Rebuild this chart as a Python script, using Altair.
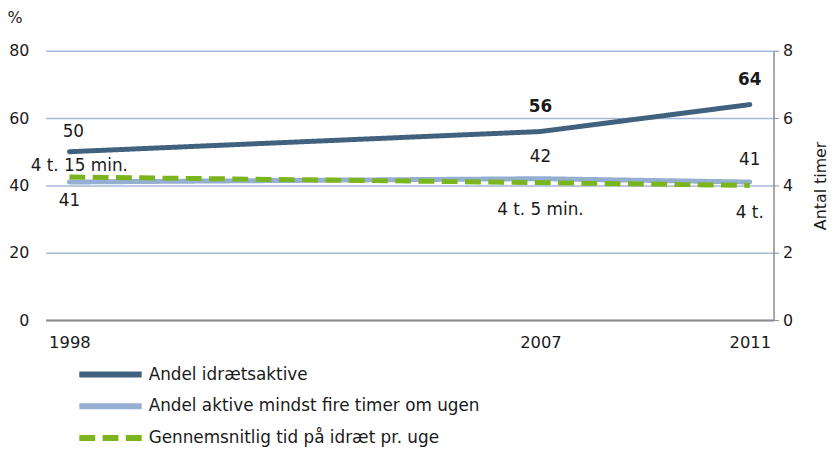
import altair as alt
import pandas as pd

years = [1998, 2007, 2011]
andel_idraetsaktive = [50, 56, 64]
andel_fire_timer = [41, 42, 41]
tid_timer = [4.25, 4.083, 4.0]
tid_labels = ["4 t. 15 min.", "4 t. 5 min.", "4 t."]
series_names = [
    "Andel idrætsaktive",
    "Andel aktive mindst fire timer om ugen",
    "Gennemsnitlig tid på idræt pr. uge",
]
colors = ["#41627f", "#95afd3", "#7ab51d"]

rows = []
for y, v in zip(years, andel_idraetsaktive):
    rows.append({"year": y, "series": series_names[0], "value": v, "label": str(v)})
for y, v in zip(years, andel_fire_timer):
    rows.append({"year": y, "series": series_names[1], "value": v, "label": str(v)})
for y, v, l in zip(years, tid_timer, tid_labels):
    rows.append({"year": y, "series": series_names[2], "value": v, "label": l})
df = pd.DataFrame(rows)

FONT = "DejaVu Sans"
TXT = "#1a1a1a"
GRID = "#a3b9d9"

x_enc = alt.X(
    "year:Q",
    scale=alt.Scale(domain=[1997.546, 2011.454], nice=False, zero=False),
    axis=alt.Axis(values=years, format="d", ticks=False, grid=False,
                  domainColor="#8c8c8c", domainWidth=2, labelPadding=15,
                  labelFontSize=16.5, labelFont=FONT, labelColor=TXT, title=None),
)

y_left = alt.Y(
    "value:Q",
    scale=alt.Scale(domain=[0, 80], nice=False),
    axis=alt.Axis(values=[0, 20, 40, 60, 80], grid=True, gridColor=GRID,
                  gridWidth=1.5, domain=False, ticks=False, labelPadding=17,
                  labelFontSize=16, labelFont=FONT, labelColor=TXT,
                  title="%", titleAngle=0, titleX=-39, titleY=-33,
                  titleAlign="left", titleBaseline="middle", titleFontSize=16,
                  titleFont=FONT, titleFontWeight="normal", titleColor=TXT),
)

y_right = alt.Y(
    "value:Q",
    scale=alt.Scale(domain=[0, 8], nice=False),
    axis=alt.Axis(orient="right", values=[0, 2, 4, 6, 8], grid=False,
                  domain=True, domainColor="#8c8c8c", domainWidth=1.5,
                  ticks=True, tickColor="#8c8c8c", tickSize=5, labelPadding=4,
                  labelFontSize=16, labelFont=FONT, labelColor=TXT,
                  title="Antal timer", titleAngle=270, titleX=47, titleY=136,
                  titleAlign="center", titleBaseline="middle", titleFontSize=16,
                  titleFont=FONT, titleFontWeight="normal", titleColor=TXT),
)

legend = alt.Legend(
    orient="none", legendX=52.5, legendY=314, title=None,
    symbolType="M-3.257,0H3.257", symbolSize=374, symbolStrokeWidth=6,
    labelOffset=25.5, rowPadding=7, labelFontSize=17, labelFont=FONT,
    labelColor=TXT, direction="vertical", padding=0, labelLimit=600,
)

color_enc = alt.Color("series:N", scale=alt.Scale(domain=series_names, range=colors), legend=legend)
dash_enc = alt.StrokeDash("series:N", scale=alt.Scale(domain=series_names, range=[[1, 0], [1, 0], [16, 7.5]]), legend=legend)

base = alt.Chart(df)

left_lines = base.transform_filter(alt.datum.series != series_names[2]).mark_line(
    strokeWidth=5, strokeCap="round", strokeJoin="round", interpolate="linear"
).encode(x=x_enc, y=y_left, color=color_enc, strokeDash=dash_enc)

def txt(filter_expr, dy, dx=0, weight="normal"):
    return base.transform_filter(filter_expr).mark_text(
        dy=dy, dx=dx, fontSize=17, font=FONT, color=TXT, fontWeight=weight,
        baseline="middle", align="center"
    )

dark = series_names[0]
light = series_names[1]
green = series_names[2]

t1 = txt(f"datum.series == '{dark}' && datum.year == 1998", -20, 4).encode(x=x_enc, y=y_left, text="label:N")
t2 = txt(f"datum.series == '{dark}' && datum.year > 1998", -25, 0, "bold").encode(x=x_enc, y=y_left, text="label:N")
t3 = txt(f"datum.series == '{light}' && datum.year == 1998", 19).encode(x=x_enc, y=y_left, text="label:N")
t4 = txt(f"datum.series == '{light}' && datum.year > 1998", -22).encode(x=x_enc, y=y_left, text="label:N")

left = alt.layer(left_lines, t1, t2, t3, t4)

right_line = base.transform_filter(alt.datum.series == green).mark_line(
    strokeWidth=5, strokeCap="butt", strokeJoin="round", interpolate="linear"
).encode(x=x_enc, y=y_right, color=color_enc, strokeDash=dash_enc)
t5 = txt(f"datum.series == '{green}' && datum.year == 1998", -11, 10).encode(x=x_enc, y=y_right, text="label:N")
t6 = txt(f"datum.series == '{green}' && datum.year > 1998", 28).encode(x=x_enc, y=y_right, text="label:N")

right = alt.layer(right_line, t5, t6)

chart = alt.layer(left, right).resolve_scale(y="independent").properties(
    width=735, height=272,
    autosize=alt.AutoSizeParams(type="none"),
    padding={"left": 38, "top": 41, "right": 57, "bottom": 126},
    background="white",
).configure_view(stroke=None)

chart.save("out.html", embed_options={"renderer": "svg", "actions": False})
